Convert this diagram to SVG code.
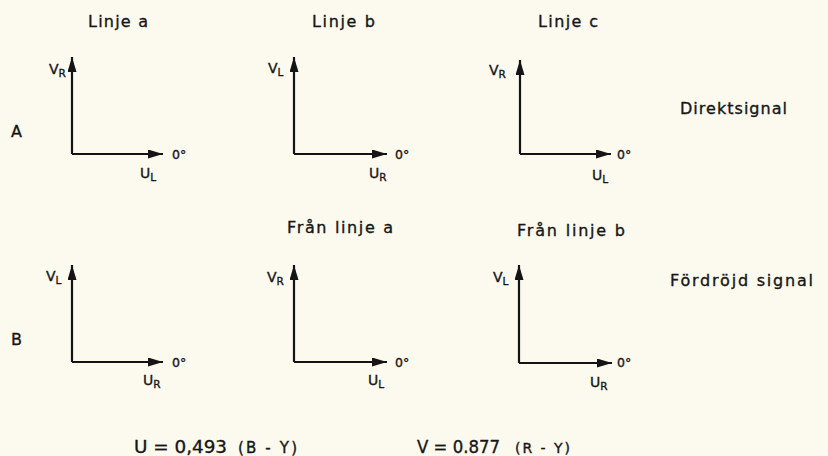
<svg xmlns="http://www.w3.org/2000/svg" width="828" height="456" viewBox="0 0 828 456">
<defs>
<marker id="ah" viewBox="0 0 15 9" refX="15" refY="4.5" markerWidth="15" markerHeight="9" markerUnits="userSpaceOnUse" orient="auto">
<path d="M0,0 L15,4.5 L0,9 Z" fill="#141414"/>
</marker>
<style>
text{font-family:"DejaVu Sans","Liberation Sans",sans-serif;fill:#161616;stroke:#161616;stroke-width:0.35}
.t{font-size:16px}
.v{font-size:14px}
.s{font-size:10.5px}
.d{font-size:12.5px}
.f{font-size:17px}
.p{font-size:15px}
.q{font-size:14px}
.ax{fill:none;stroke:#141414;stroke-width:2.2;marker-end:url(#ah)}
</style>
</defs>
<rect width="828" height="456" fill="#fcfaef"/>

<g id="row-labels">
<text class="t" x="11" y="137">A</text>
<text class="t" x="11" y="345">B</text>
<text class="t" x="680" y="114" textLength="107" lengthAdjust="spacing">Direktsignal</text>
<text class="t" x="670" y="286" textLength="143" lengthAdjust="spacing">Fördröjd signal</text>
</g>

<g id="connectors">
<path class="ax" d="M72,154 V57"/>
<path class="ax" d="M72,154 H163"/>
<path class="ax" d="M294,154 V57"/>
<path class="ax" d="M294,154 H387"/>
<path class="ax" d="M520,154 V60"/>
<path class="ax" d="M520,154 H611"/>
<path class="ax" d="M72,362 V265"/>
<path class="ax" d="M72,362 H163"/>
<path class="ax" d="M294,362 V265"/>
<path class="ax" d="M294,362 H387"/>
<path class="ax" d="M519,363 V265"/>
<path class="ax" d="M519,363 H612"/>
</g>

<g id="a1">
<text class="t" x="88" y="27" textLength="60" lengthAdjust="spacing">Linje a</text>
<text class="v" x="49" y="74">V<tspan class="s" dy="3">R</tspan></text>
<text class="d" x="172" y="159">0°</text>
<text class="v" x="140" y="178">U<tspan class="s" dy="3">L</tspan></text>
</g>

<g id="a2">
<text class="t" x="312" y="27" textLength="63" lengthAdjust="spacing">Linje b</text>
<text class="v" x="268" y="73">V<tspan class="s" dy="3">L</tspan></text>
<text class="d" x="395" y="159">0°</text>
<text class="v" x="369" y="178">U<tspan class="s" dy="3">R</tspan></text>
</g>

<g id="a3">
<text class="t" x="538" y="27" textLength="60" lengthAdjust="spacing">Linje c</text>
<text class="v" x="489" y="75">V<tspan class="s" dy="3">R</tspan></text>
<text class="d" x="617" y="159">0°</text>
<text class="v" x="592" y="180">U<tspan class="s" dy="3">L</tspan></text>
</g>

<g id="b1">
<text class="v" x="46" y="281">V<tspan class="s" dy="3">L</tspan></text>
<text class="d" x="172" y="367">0°</text>
<text class="v" x="143" y="385">U<tspan class="s" dy="3">R</tspan></text>
</g>

<g id="b2">
<text class="t" x="287" y="233" textLength="106" lengthAdjust="spacing">Från linje a</text>
<text class="v" x="267" y="282">V<tspan class="s" dy="3">R</tspan></text>
<text class="d" x="395" y="367">0°</text>
<text class="v" x="368" y="385">U<tspan class="s" dy="3">L</tspan></text>
</g>

<g id="b3">
<text class="t" x="517" y="236" textLength="108" lengthAdjust="spacing">Från linje b</text>
<text class="v" x="493" y="282">V<tspan class="s" dy="3">L</tspan></text>
<text class="d" x="617" y="367">0°</text>
<text class="v" x="590" y="387">U<tspan class="s" dy="3">R</tspan></text>
</g>

<g id="formulas">
<text class="f" x="134" y="453" textLength="93" lengthAdjust="spacingAndGlyphs">U = 0,493</text>
<text class="p" x="238" y="453" textLength="59" lengthAdjust="spacing">(B - Y)</text>
<text class="f" x="417" y="453" textLength="83" lengthAdjust="spacingAndGlyphs">V = 0.877</text>
<text class="q" x="515" y="453" textLength="55" lengthAdjust="spacing">(R - Y)</text>
</g>
</svg>
